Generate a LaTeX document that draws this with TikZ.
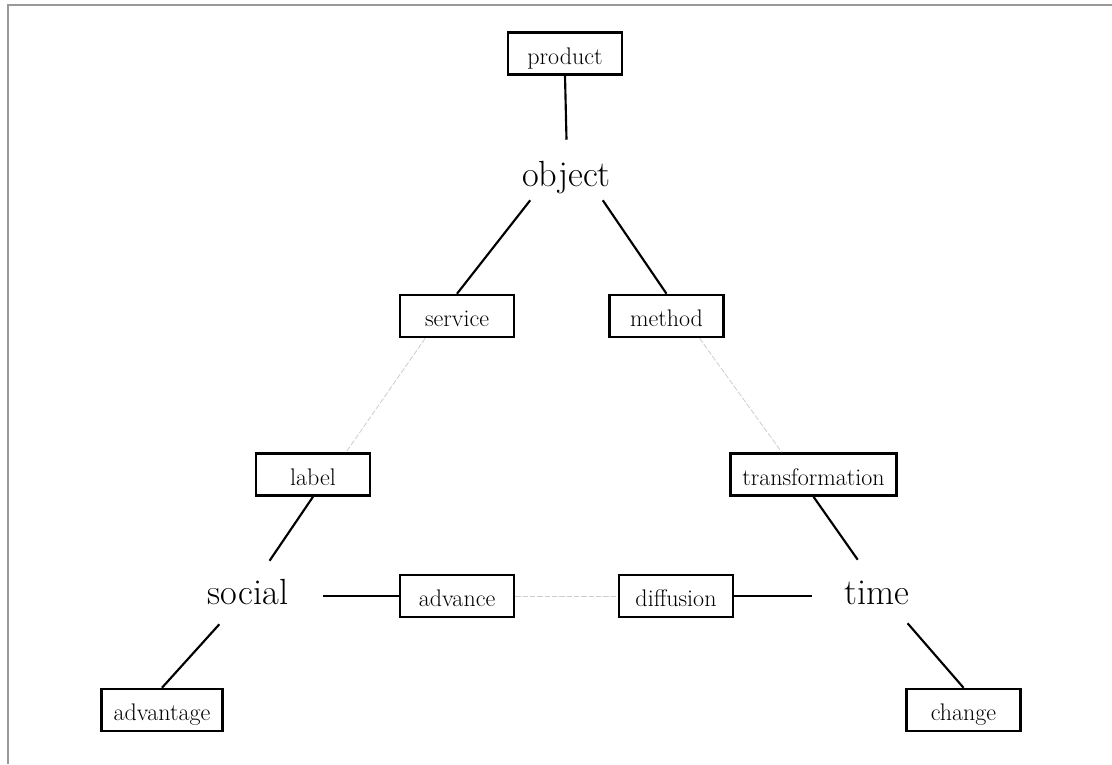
\documentclass[tikz,border=0pt]{standalone}
\usepackage{fontspec}
\begin{document}
\begin{tikzpicture}[x=0.75pt,y=-0.75pt,
  box/.style={draw=black,line width=1.9pt,fill=white,inner xsep=9pt,inner ysep=0pt,
    minimum width=85.5pt,minimum height=31.5pt,text height=18pt,text depth=2pt,
    font=\fontsize{18}{21}\selectfont},
  big/.style={inner sep=0pt,anchor=base,font=\fontsize{27.3}{31}\selectfont},
  conn/.style={line width=1.6pt,black},
  faint/.style={line width=0.6pt,gray!40,dash pattern=on 4pt off 1.5pt}]
\useasboundingbox (0,0) rectangle (1112,764);
% frame (only top and left edges visible)
\draw[line width=1.5pt,gray!80] (8.3,764) -- (8.3,5) -- (1112,5);
% boxes
\node[box] (product) at (565,53.5) {product};
\node[box] (service) at (457,316) {service};
\node[box] (method) at (666.5,316) {method};
\node[box] (label) at (313,474.5) {label};
\node[box] (transformation) at (813.5,474.5) {transformation};
\node[box] (advance) at (457,596) {advance};
\node[box] (diffusion) at (676,596) {diffusion};
\node[box] (advantage) at (162,710) {advantage};
\node[box] (change) at (963.5,710) {change};
% big words
\node[big,minimum width=54pt,text height=34.5pt,text depth=10.5pt] (object) at (566.5,186) {\makebox[0pt]{object}};
\node[big,minimum width=112.5pt,text height=32.25pt,text depth=15pt] (social) at (248,604) {\makebox[0pt]{social}};
\node[big,minimum width=102pt,text height=33pt,text depth=14.25pt] (time) at (880,604) {\makebox[0pt]{time\hspace*{4.5pt}}};
% solid connectors
\draw[conn] (product.south) -- (object.north);
\draw[conn] (service.north) -- (object.south west);
\draw[conn] (method.north) -- (object.south east);
\draw[conn] (label.south) -- (social);
\draw[conn] (advantage.north) -- (social);
\draw[conn] (social.east |- advance.west) -- (advance.west);
\draw[conn] (transformation.south) -- (time);
\draw[conn] (change.north) -- (time);
\draw[conn] (diffusion.east) -- (diffusion.east -| time.west);
% faint connectors
\draw[faint] (service.215) -- (label.34);
\draw[faint] (method.326) -- (transformation.145);
\draw[faint] (advance.east) -- (diffusion.west);
\end{tikzpicture}
\end{document}
